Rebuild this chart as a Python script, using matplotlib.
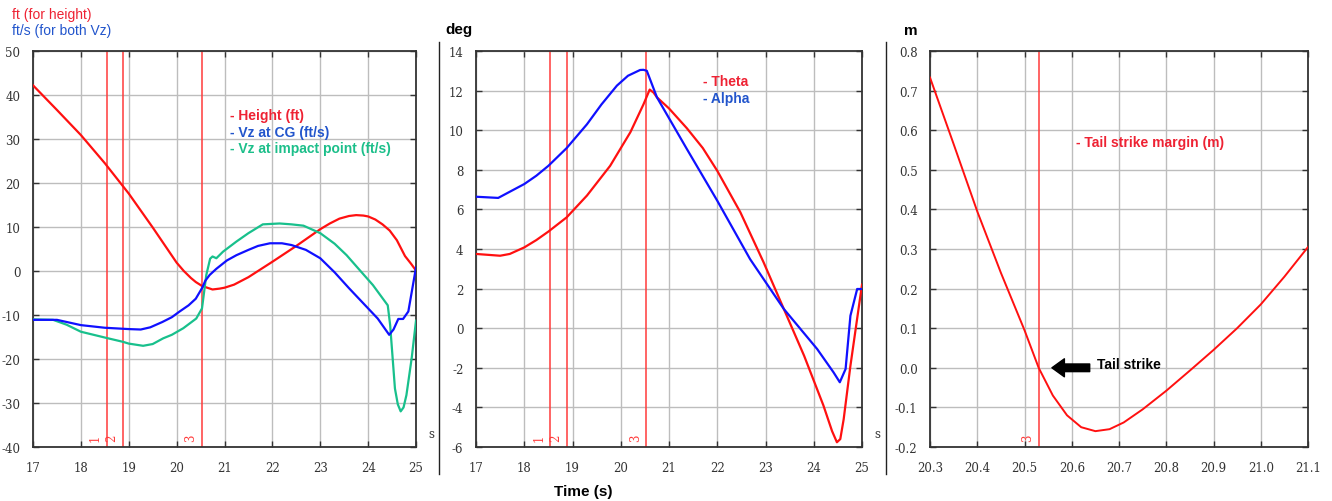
import numpy as np
import matplotlib
matplotlib.use("Agg")
import matplotlib.pyplot as plt
from matplotlib.lines import Line2D

# ---- panel 1: height and vertical speeds ----
t_height = [17.0, 17.5, 18.0, 18.5, 19.0, 19.5, 20.0, 20.15, 20.3, 20.4, 20.53, 20.75, 20.9,
            21.0, 21.2, 21.5, 22.0, 22.5, 23.0, 23.2, 23.4, 23.6, 23.75, 23.9, 24.0, 24.15,
            24.3, 24.45, 24.6, 24.77, 24.9, 25.0]
height = [42.2, 36.6, 30.9, 24.5, 17.6, 9.9, 1.9, 0.0, -1.6, -2.5, -3.4, -4.2, -4.0,
          -3.8, -3.1, -1.4, 2.1, 5.7, 9.5, 10.8, 11.9, 12.5, 12.7, 12.6, 12.4, 11.7,
          10.6, 9.2, 7.0, 3.4, 1.6, 0.1]

t_vzcg = [17.0, 17.5, 18.0, 18.5, 19.0, 19.25, 19.45, 19.7, 19.9, 20.05, 20.25, 20.4, 20.53,
          20.6, 20.69, 20.83, 21.05, 21.25, 21.5, 21.7, 21.95, 22.2, 22.4, 22.7, 23.0, 23.3,
          23.6, 24.2, 24.44, 24.53, 24.63, 24.73, 24.84, 25.0]
vzcg = [-11.1, -11.1, -12.3, -12.9, -13.2, -13.3, -12.8, -11.6, -10.5, -9.3, -7.8, -6.3, -3.9,
        -2.2, -0.9, 0.5, 2.4, 3.6, 4.8, 5.7, 6.3, 6.3, 5.9, 4.8, 2.9, -0.3,
        -3.9, -10.8, -14.5, -13.3, -10.9, -10.9, -9.2, 0.8]

t_vzip = [17.0, 17.42, 17.7, 18.0, 18.53, 18.88, 19.0, 19.3, 19.5, 19.72, 19.9, 20.14, 20.41,
          20.53, 20.62, 20.7, 20.75, 20.83, 20.97, 21.25, 21.5, 21.8, 22.15, 22.4, 22.65,
          23.0, 23.3, 23.55, 23.8, 24.1, 24.41, 24.46, 24.56, 24.62, 24.68, 24.74, 24.8,
          24.91, 25.0]
vzip = [-11.0, -11.1, -12.2, -13.8, -15.2, -16.1, -16.5, -17.0, -16.6, -15.3, -14.5, -13.0, -10.8,
        -8.5, -0.9, 2.8, 3.3, 2.9, 4.4, 6.7, 8.6, 10.6, 10.8, 10.6, 10.3,
        8.6, 6.2, 3.6, 0.5, -3.2, -7.8, -12.3, -26.7, -30.3, -31.9, -31.0, -28.2,
        -19.8, -11.3]

# ---- panel 2: attitude ----
t_theta = [17.0, 17.5, 17.7, 18.0, 18.25, 18.5, 18.88, 19.3, 19.78, 20.2, 20.47, 20.6, 20.68,
           20.75, 21.0, 21.37, 21.7, 22.0, 22.48, 22.96, 23.38, 23.8, 24.2, 24.38, 24.48,
           24.55, 24.62, 24.76, 25.0]
theta = [3.75, 3.66, 3.75, 4.08, 4.45, 4.88, 5.6, 6.7, 8.2, 9.9, 11.3, 12.05, 11.9,
         11.66, 11.1, 10.1, 9.1, 7.95, 5.85, 3.33, 0.97, -1.39, -3.9, -5.2, -5.76,
         -5.6, -4.6, -1.9, 2.2]

t_alpha = [17.0, 17.46, 18.0, 18.25, 18.5, 18.88, 19.3, 19.6, 19.92, 20.15, 20.4, 20.47, 20.54,
           20.75, 21.37, 22.0, 22.68, 23.38, 24.07, 24.41, 24.54, 24.66, 24.76, 24.9, 25.0]
alpha = [6.64, 6.58, 7.28, 7.7, 8.2, 9.1, 10.3, 11.3, 12.25, 12.75, 13.04, 13.05, 13.0,
         11.66, 9.05, 6.44, 3.49, 0.97, -1.05, -2.23, -2.73, -2.06, 0.63, 1.98, 1.98]

# ---- panel 3: tail strike margin ----
t_margin = [20.3, 20.35, 20.4, 20.45, 20.5, 20.53, 20.56, 20.59, 20.62, 20.65, 20.68, 20.71,
            20.75, 20.8, 20.85, 20.9, 20.95, 21.0, 21.05, 21.1]
margin = [0.733, 0.565, 0.395, 0.24, 0.095, 0.0, -0.07, -0.12, -0.15, -0.16, -0.155, -0.138,
          -0.105, -0.058, -0.007, 0.045, 0.10, 0.16, 0.23, 0.305]

events = [18.54, 18.88, 20.53]
event_labels = ["1", "2", "3"]

RED = "#ff1010"
BLUE = "#1010ff"
GREEN = "#18c08c"
TXT_RED = "#ee2233"
TXT_BLUE = "#2255cc"
TXT_GREEN = "#1cbf8a"

W, H = 1332, 502
fig = plt.figure(figsize=(W / 100, H / 100), dpi=100)


def px_axes(left, right, top, bottom):
    return fig.add_axes([left / W, 1 - bottom / H, (right - left) / W, (bottom - top) / H])


def style(ax, xlim, ylim, xticks, yticks, xfmt, yfmt):
    ax.set_xlim(*xlim)
    ax.set_ylim(*ylim)
    ax.set_xticks(xticks)
    ax.set_yticks(yticks)
    ax.set_xticklabels([xfmt.format(v) for v in xticks])
    ax.set_yticklabels([yfmt.format(v) for v in yticks])
    ax.grid(True, color="#bdbdbd", lw=1.0)
    ax.set_axisbelow(True)
    ax.tick_params(direction="in", length=4, width=1, color="#333333",
                   top=True, right=True, labelsize=8.5, labelcolor="#333333")
    ax.tick_params(axis="x", pad=10)
    ax.tick_params(axis="y", pad=9)
    for lab in ax.get_xticklabels() + ax.get_yticklabels():
        lab.set_family("DejaVu Serif")
    for sp in ax.spines.values():
        sp.set_color("#333333")
        sp.set_linewidth(1.3)


def event_lines(ax, xs, labels, ytxt):
    for x, lab in zip(xs, labels):
        ax.axvline(x, color="#ff3b3b", lw=1.1, zorder=2)
        ax.annotate(lab, (x, ytxt), xycoords=("data", "axes fraction"),
                    xytext=(-8, 0), textcoords="offset points", rotation=90,
                    color="#ff3b3b", fontsize=8.5, family="DejaVu Serif",
                    ha="center", va="center")


# panel 1
ax1 = px_axes(33, 416, 52, 448)
style(ax1, (17, 25), (-40, 50), list(range(17, 26)), list(range(-40, 51, 10)), "{}", "{}")
event_lines(ax1, events, event_labels, 0.025)
ax1.plot(t_height, height, color=RED, lw=1.6, zorder=3)
ax1.plot(t_vzip, vzip, color=GREEN, lw=1.6, zorder=3)
ax1.plot(t_vzcg, vzcg, color=BLUE, lw=1.6, zorder=4)
for txt, c, yy in [("- Height (ft)", TXT_RED, 0.838), ("- Vz at CG (ft/s)", TXT_BLUE, 0.796),
                   ("- Vz at impact point (ft/s)", TXT_GREEN, 0.755)]:
    ax1.text(0.514, yy, txt, transform=ax1.transAxes, color=c, fontsize=10,
             fontweight="bold", family="Liberation Sans", va="center")

# panel 2
ax2 = px_axes(476, 862, 52, 448)
style(ax2, (17, 25), (-6, 14), list(range(17, 26)), list(range(-6, 15, 2)), "{}", "{}")
event_lines(ax2, events, event_labels, 0.025)
ax2.plot(t_theta, theta, color=RED, lw=1.6, zorder=3)
ax2.plot(t_alpha, alpha, color=BLUE, lw=1.6, zorder=4)
ax2.text(0.588, 0.924, "- Theta", transform=ax2.transAxes, color=TXT_RED, fontsize=10,
         fontweight="bold", family="Liberation Sans", va="center")
ax2.text(0.588, 0.881, "- Alpha", transform=ax2.transAxes, color=TXT_BLUE, fontsize=10,
         fontweight="bold", family="Liberation Sans", va="center")

# panel 3
ax3 = px_axes(930, 1308, 52, 448)
xt3 = [20.3 + 0.1 * i for i in range(9)]
yt3 = [-0.2 + 0.1 * i for i in range(11)]
style(ax3, (20.3, 21.1), (-0.2, 0.8), xt3, yt3, "{:.1f}", "{:.1f}")
ax3.set_yticklabels(["{:.1f}".format(v) if abs(v) > 1e-9 else "0.0" for v in yt3])
for lab in ax3.get_yticklabels():
    lab.set_family("DejaVu Serif")
event_lines(ax3, events[2:], event_labels[2:], 0.025)
ax3.plot(t_margin, margin, color=RED, lw=1.4, zorder=3)
ax3.text(0.386, 0.77, "- Tail strike margin (m)", transform=ax3.transAxes, color=TXT_RED,
         fontsize=10, fontweight="bold", family="Liberation Sans", va="center")
ax3.annotate("", xy=(20.558, 0.0), xytext=(20.638, 0.0),
             arrowprops=dict(arrowstyle="simple,head_length=0.9,head_width=1.3,tail_width=0.55",
                             color="black", shrinkA=0, shrinkB=0))
ax3.text(20.654, 0.01, "Tail strike", color="black", fontsize=10, fontweight="bold",
         family="Liberation Sans", va="center")

# unit labels and decorations
fig.text(12 / W, 1 - 15 / H, "ft (for height)", color=TXT_RED, fontsize=10,
         family="Liberation Sans", va="center")
fig.text(12 / W, 1 - 31 / H, "ft/s (for both Vz)", color=TXT_BLUE, fontsize=10,
         family="Liberation Sans", va="center")
fig.text(445 / W, 1 - 30 / H, "deg", color="black", fontsize=11, fontweight="bold",
         family="Liberation Sans", va="center")
fig.text(904 / W, 1 - 31 / H, "m", color="black", fontsize=11, fontweight="bold",
         family="Liberation Sans", va="center")
fig.text(583 / W, 1 - 492 / H, "Time (s)", color="black", fontsize=11, fontweight="bold",
         family="Liberation Sans", ha="center", va="center")
for xs in [431, 877]:
    fig.text(xs / W, 1 - 435 / H, "s", color="#333333", fontsize=8.5,
             family="DejaVu Serif", ha="center", va="center")
for xs in [438.5, 885.5]:
    fig.add_artist(Line2D([xs / W, xs / W], [1 - 43 / H, 1 - 475 / H], color="#222222", lw=1.0))

fig.savefig("out.png", dpi=100)
